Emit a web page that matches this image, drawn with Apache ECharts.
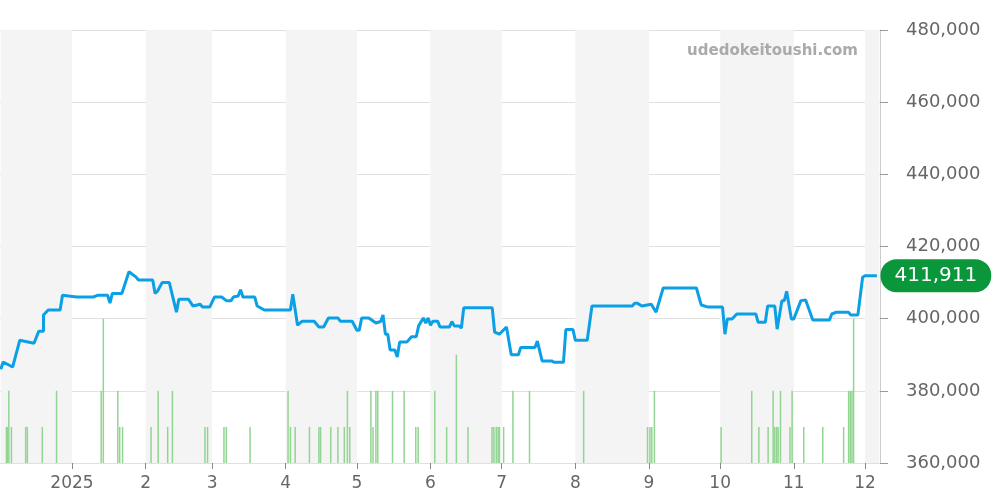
<!DOCTYPE html>
<html>
<head>
<meta charset="utf-8">
<script src="https://cdn.jsdelivr.net/npm/echarts@6/dist/echarts.min.js"></script>
<style>html,body{margin:0;padding:0;background:#fff}#main{width:1000px;height:500px}</style>
</head>
<body>
<div id="main"></div>
<script>
// 起点 2024-12-02 からの日数
var startDate = new Date(2024, 11, 2);
var endDay = 370;

var priceDays = [0,1,5,8,14,16,18,18,20,25,26,32,39,41,45,46,47,51,54,57,58,64,65,66,68,71,74,75,79,81,84,85,88,90,93,95,97,98,100,101,102,107,108,111,122,123,125,127,132,134,136,138,142,143,148,150,151,152,155,158,160,161,162,163,164,166,167,168,171,173,175,176,178,179,180,181,182,184,185,189,190,191,193,194,195,207,208,210,213,215,218,219,225,226,228,232,233,237,238,241,242,247,249,266,267,268,270,270.5,274,276,279,293,295,298,304,305,306,308,310,318,319,322,323,326,327,329,330,331,333,334,337,339,342,349,350,352,357,358,361,363,364,369];
var priceValues = [386,388,386.6,394,393.2,396.5,396.5,401,402.4,402.4,406.5,406,406,406.5,406.5,404.3,407,407,413,411.5,410.7,410.7,407,407.6,410,410,401.8,405.4,405.4,403.5,404,403.2,403.2,406,406,405,405,406,406.3,408,406,406,403.5,402.4,402.4,406.8,398.2,399.3,399.3,397.7,397.7,400.2,400.2,399.3,399.3,396.8,396.8,400.2,400.2,398.8,399.2,401,395.7,395.7,391.3,391.3,389.4,393.5,393.5,395,395,398,400.2,398.8,400.2,398.2,399.3,399.3,397.7,397.7,399.2,398,398,397.4,403,403,396.3,395.7,397.7,390,390,392,392,393.8,388.3,388.3,387.9,387.9,397,397,394,394,403.5,403.5,404.3,404.3,403.5,404,404,401.8,408.5,408.5,403.8,403.2,403.2,395.7,399.9,399.9,401.3,401.3,399,399,403.5,403.5,397.1,405,405,407.6,399.9,399.9,405,405.2,399.6,399.6,401.3,401.8,401.8,401,401,411.5,411.9,411.911];

var volumeDays = [2.4,2.8,3.4,4.5,10.5,11.2,17.5,23.5,42.3,43.2,49.3,50.1,51.3,63.3,66.3,70.3,72.3,86,87.1,94,95,105,121,122,124,130,134,134.7,139,142,144.7,146,147,155.9,156.8,158,158.8,165,169.9,174.8,175.8,182.8,187.8,191.9,196.8,206.9,207.7,208.7,209.5,210,211.8,215.7,222.7,245.5,272.4,273.4,274.2,275.3,303.4,316.3,319.3,323.2,325.3,326,326.8,327.4,328.4,332.4,333.3,338.2,346.2,355,357.1,357.8,358.5,359.2];
var volumeValues = [1,1,2,1,1,1,1,2,2,4,2,1,1,1,2,1,2,1,1,1,1,1,2,1,1,1,1,1,1,1,1,2,1,2,1,2,2,2,2,1,1,2,1,3,1,1,1,1,1,1,1,2,2,2,1,1,1,2,1,2,1,1,2,1,1,1,2,1,2,1,1,1,2,2,2,4];

var greyBands = [['2024-12-02','2025-01-01'],['2025-02-01','2025-03-01'],['2025-04-01','2025-05-01'],['2025-06-01','2025-07-01'],['2025-08-01','2025-09-01'],['2025-10-01','2025-11-01'],['2025-12-01','2025-12-07']];

function dayToTime(d) { return startDate.getTime() + d * 86400000; }
function parseDay(s) { var p = s.split('-'); return new Date(+p[0], +p[1] - 1, +p[2]).getTime(); }

var priceData = priceDays.map(function (d, i) { return [dayToTime(d), priceValues[i] * 1000]; });
var volumeData = volumeDays.map(function (d, i) { return [dayToTime(d), volumeValues[i]]; });
var lastPoint = priceData[priceData.length - 1];

var myChart = echarts.init(document.getElementById('main'));
myChart.setOption({
    animation: false,
    grid: { left: 0, right: 120, top: 30, bottom: 37 },
    graphic: [{
        type: 'text', right: 142, top: 44, z: 100,
        style: { text: 'udedokeitoushi.com', fill: '#aaa', font: 'bold 15px "DejaVu Sans", sans-serif' }
    }],
    xAxis: {
        type: 'time',
        min: dayToTime(0),
        max: dayToTime(endDay),
        minInterval: 28 * 86400000,
        maxInterval: 31 * 86400000,
        axisLine: { show: false },
        axisTick: { show: true, length: 6, lineStyle: { color: '#888' } },
        splitLine: { show: false },
        axisLabel: {
            fontSize: 17, color: '#666', fontFamily: 'DejaVu Sans', margin: 12,
            formatter: function (v) {
                var d = new Date(v);
                return d.getMonth() === 0 ? String(d.getFullYear()) : String(d.getMonth() + 1);
            }
        }
    },
    yAxis: [{
        type: 'value', position: 'right',
        min: 360000, max: 480000, interval: 20000,
        axisLine: { show: true, lineStyle: { color: '#ccc' } },
        axisTick: { show: true, length: 8, lineStyle: { color: '#999' } },
        splitLine: { lineStyle: { color: '#e0e0e0' } },
        axisLabel: {
            fontSize: 18, color: '#666', fontFamily: 'DejaVu Sans', margin: 26,
            verticalAlign: 'middle', padding: [6, 0, 0, 0],
            formatter: function (v) { return v.toLocaleString('en-US'); }
        }
    }, {
        type: 'value', min: 0, max: 12, show: false
    }],
    series: [{
        type: 'bar',
        yAxisIndex: 1,
        data: volumeData,
        barWidth: 1.5,
        itemStyle: { color: '#92d492' },
        markArea: {
            silent: true,
            itemStyle: { color: '#f4f4f4' },
            data: greyBands.map(function (b) { return [{ xAxis: parseDay(b[0]) }, { xAxis: parseDay(b[1]) }]; })
        }
    }, {
        type: 'line',
        data: priceData,
        showSymbol: false,
        lineStyle: { color: '#0ba0e6', width: 3 },
        z: 5,
        markPoint: {
            silent: true,
            symbolSize: 0,
            data: [{
                coord: lastPoint,
                label: {
                    show: true, position: 'inside', offset: [59, 0],
                    color: '#fff', fontSize: 20, fontFamily: 'DejaVu Sans',
                    backgroundColor: '#0a963a', borderRadius: 16, padding: [8, 14, 5, 14],
                    formatter: function () { return lastPoint[1].toLocaleString('en-US'); }
                }
            }]
        }
    }]
});
</script>
</body>
</html>
